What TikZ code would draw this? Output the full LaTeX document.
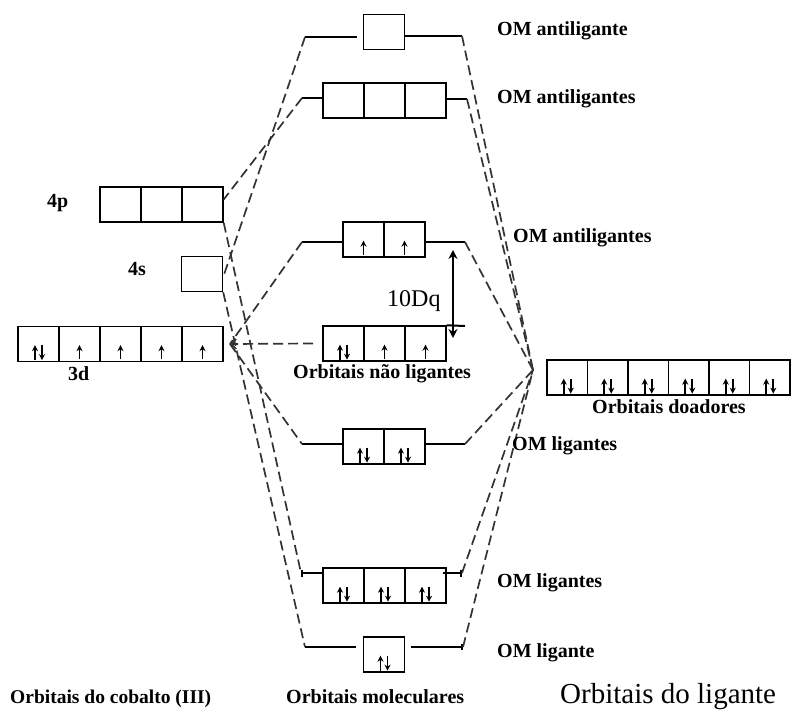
\documentclass[tikz,border=0pt]{standalone}
\usepackage{fontspec}
\setmainfont{Liberation Serif}
\usetikzlibrary{arrows.meta,positioning}

\tikzset{
	orb/.style={draw, line width=1.4pt, minimum width=41pt, minimum height=35pt, inner sep=0pt},
	lvl/.style={line width=2pt},
	dsh/.style={line width=1.7pt, black!80, dash pattern=on 10pt off 5pt},
	elec/.style={line width=1.8pt, -{Stealth[length=6pt,width=6pt]}},
	lbl/.style={inner sep=0pt, anchor=base west, font=\fontsize{20}{24}\selectfont\bfseries},
}

\newcommand{\elup}[1]{\draw[elec] ([yshift=3pt]#1.south) -- ++(0pt,14pt);}
\newcommand{\elpair}[1]{\draw[elec] ([xshift=-3.5pt,yshift=2pt]#1.south) -- ++(0pt,15pt);
	\draw[elec] ([xshift=3.5pt,yshift=17pt]#1.south) -- ++(0pt,-15pt);}

\begin{document}
\begin{tikzpicture}[x=1pt,y=-1pt]
	\useasboundingbox (0,0) rectangle (792,711);

	% cobalto
	\foreach \i in {1,...,3} \node[orb] (p\i) at ({120.5+(\i-1)*41},204.5) {};
	\node[orb] (s) at (202,274) {};
	\foreach \i in {1,...,5} \node[orb] (d\i) at ({38.5+(\i-1)*41},344) {};
	\node[lbl] (l4p) at (47,208) {4p};
	\node[lbl] (l4s) at (128,276) {4s};
	\node[lbl] (l3d) at (68,380) {3d};

	% moleculares
	\node[orb] (as) at (384,32) {};
	\foreach \i in {1,...,3} \node[orb] (ts\i) at ({343.5+(\i-1)*41},100.5) {};
	\foreach \i in {1,2} \node[orb] (es\i) at ({363.5+(\i-1)*41},239.5) {};
	\foreach \i in {1,...,3} \node[orb] (n\i) at ({343.5+(\i-1)*41},343.5) {};
	\foreach \i in {1,2} \node[orb] (e\i) at ({363.5+(\i-1)*41},446.5) {};
	\foreach \i in {1,...,3} \node[orb] (t\i) at ({343.5+(\i-1)*41},585.5) {};
	\node[orb] (a) at (384,654.5) {};

	% ligante
	\foreach \i in {1,...,6} \node[orb, minimum width=40.5pt] (l\i) at ({567.25+(\i-1)*40.5},377.5) {};

	% eletrons
	\elpair{d1}
	\foreach \i in {2,...,5} {\elup{d\i}}
	\elpair{n1} \elup{n2} \elup{n3}
	\elup{es1} \elup{es2}
	\elpair{e1} \elpair{e2}
	\foreach \i in {1,...,3} {\elpair{t\i}}
	\elpair{a}
	\foreach \i in {1,...,6} {\elpair{l\i}}

	% niveis
	\coordinate (asL) at (305,37);
	\coordinate (asR) at (462,36);
	\coordinate (tsL) at (302,98);
	\coordinate (tsR) at (467,99);
	\coordinate (esL) at (302,242);
	\coordinate (esR) at (465,242);
	\coordinate (nR) at (465,326);
	\coordinate (eL) at (302,444);
	\coordinate (eR) at (465,444);
	\coordinate (tL) at (301,573);
	\coordinate (tR) at (462,573);
	\coordinate (aL) at (305,647);
	\coordinate (aR) at (463,647);
	\coordinate (dR) at (230,344);
	\coordinate (nL) at (313,343.5);
	\coordinate (lg) at (533,370);

	\path [lvl, shorten >=6pt] (asL) edge (as.west |- asL);
	\path [lvl] (as.east |- asR) edge (asR);
	\path [lvl] (tsL) edge (ts1.west |- tsL);
	\path [lvl] (ts3.east |- tsR) edge (tsR);
	\path [lvl] (esL) edge (es1.west |- esL);
	\path [lvl] (es2.east |- esR) edge (esR);
	\path [lvl] (n3.north east) edge (nR);
	\path [lvl] (eL) edge (e1.west |- eL);
	\path [lvl] (e2.east |- eR) edge (eR);
	\path [lvl, {Bar[width=7pt]}-] (tL) edge (t1.west |- tL);
	\path [lvl, -{Bar[width=7pt]}] ([xshift=-4pt]t3.east |- tR) edge (tR);
	\path [lvl, shorten >=7pt] (aL) edge (a.west |- aL);
	\path [lvl, shorten <=6pt, -{Bar[width=6pt]}] (a.east |- aR) edge (aR);

	% ligacoes
	\path [dsh] (asL) edge ([yshift=-3pt]s.east);
	\path [dsh] (tsL) edge ([yshift=5pt]p3.east);
	\path [dsh] (esL) edge (dR);
	\path [dsh] (s.south east) edge (aL);
	\path [dsh] (p3.south east) edge (tL);
	\path [dsh] (dR) edge (eL);
	\path [dsh, -{Straight Barb[length=5pt,width=10pt]}] (nL) edge (dR);

	\path [dsh] (asR) edge (lg);
	\path [dsh] (tsR) edge (lg);
	\path [dsh] (esR) edge (lg);
	\path [dsh] (eR) edge (lg);
	\path [dsh] (tR) edge (lg);
	\path [dsh] (aR) edge (lg);

	% 10Dq
	\coordinate (dqT) at (453,250);
	\coordinate (dqB) at (453,338);
	\path [line width=1.5pt, {Stealth[length=9pt,width=9pt]}-{Stealth[length=9pt,width=9pt]}] (dqT) edge (dqB);
	\node[lbl, font=\fontsize{24}{28}\selectfont] (dq) at (387,306) {10Dq};

	% rotulos
	\node[lbl] (om1) at (497,36) {OM antiligante};
	\node[lbl] (om2) at (497,104) {OM antiligantes};
	\node[lbl] (om3) at (513,243) {OM antiligantes};
	\node[lbl] (om4) at (512,450) {OM ligantes};
	\node[lbl] (om5) at (497,587) {OM ligantes};
	\node[lbl] (om6) at (497,657) {OM ligante};
	\node[lbl] (nl) at (293,378) {Orbitais não ligantes};
	\node[lbl] (od) at (592,413) {Orbitais doadores};
	\node[lbl, font=\fontsize{19.5}{24}\selectfont\bfseries] (oc) at (10,703) {Orbitais do cobalto (III)};
	\node[lbl] (om) at (286,703) {Orbitais moleculares};
	\node[lbl, font=\fontsize{29}{32}\selectfont] (ol) at (560,703) {Orbitais do ligante};
\end{tikzpicture}
\end{document}
